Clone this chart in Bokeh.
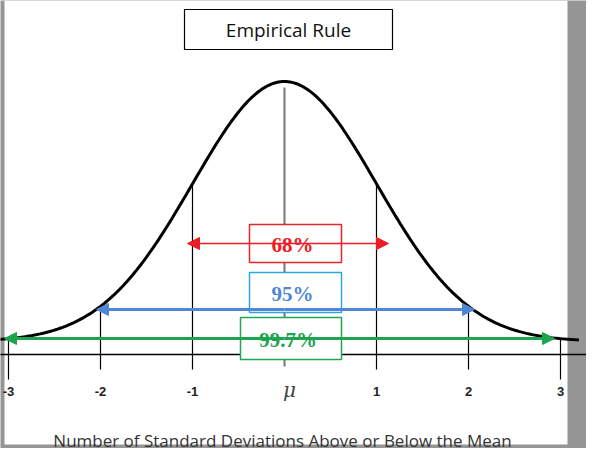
from bokeh.plotting import figure
from bokeh.models import Range1d, Arrow, NormalHead
from bokeh.core.properties import value
from bokeh.embed import file_html
from bokeh.resources import INLINE
import numpy as np

# standard deviation marks and their labels
sd_ticks = [-3, -2, -1, 0, 1, 2, 3]
tick_labels = ["-3", "-2", "-1", "μ", "1", "2", "3"]
# spans of the empirical rule
spans = [1, 2, 3]
span_labels = ["68%", "95%", "99.7%"]
span_colors = ["#ee1c24", "#4f87d6", "#1ea34f"]
box_colors = ["#e0272d", "#2ea6df", "#22a656"]

MU, SD = 300, 92          # px position of mean and px per sd
BASE, AMP = 357, 260      # curve base level and height (px)

def X(z):
    return MU + SD * np.asarray(z, dtype=float)

def Y(py):
    return 464 - np.asarray(py, dtype=float)

def curve_py(z):
    return BASE - AMP * np.exp(-np.asarray(z, dtype=float) ** 2 / 2)

p = figure(width=586, height=448, output_backend="svg", toolbar_location=None,
           x_range=Range1d(16, 602), y_range=Range1d(0, 448), min_border=0)
p.axis.visible = False
p.grid.visible = False
p.outline_line_color = None
p.background_fill_color = "#959595"
p.border_fill_color = "#959595"

# white sheet
p.quad(left=[20], right=[583], bottom=Y([460]), top=Y([16]), fill_color="white", line_color=None)

# title box
p.quad(left=[200], right=[408], bottom=Y([65]), top=Y([25]), fill_color="white", line_color="black", line_width=1.2)
p.text(x=[304], y=Y([45]), text=["Empirical Rule"], text_align="center", text_baseline="middle",
       text_font=value("Open Sans"), text_font_size="19px", text_color="#111111")

# axis line
p.line(x=[0, 602], y=Y([370, 370]), line_color="black", line_width=1.5)

# vertical sd lines
for z in sd_ticks:
    if z == 0:
        p.line(x=[X(z)] * 2, y=Y([103, 382]), line_color="#777777", line_width=2)
    elif abs(z) == 3:
        p.line(x=[X(z)] * 2, y=Y([curve_py(z), 395]), line_color="black", line_width=1.2)
    else:
        p.line(x=[X(z)] * 2, y=Y([curve_py(z), 385]), line_color="black", line_width=1.2)

# normal curve
zz = np.linspace(-3.1, 3.2, 300)
p.line(x=X(zz), y=Y(curve_py(zz)), line_color="black", line_width=3)

# tick labels
for z, lab in zip(sd_ticks, tick_labels):
    if lab == "μ":
        p.text(x=[X(z) + 5], y=Y([405]), text=[lab], text_align="center", text_baseline="middle",
               text_font=value("DejaVu Serif"), text_font_style="italic", text_font_size="20px",
               text_color="#444444")
    else:
        p.text(x=[X(z)], y=Y([407]), text=[lab], text_align="center", text_baseline="middle",
               text_font=value("Liberation Sans"), text_font_style="bold", text_font_size="13px",
               text_color="#222222")

# arrows and boxes
arrow_py = [259, 325, 354]
arrow_ends = [(203, 404), (112, 490), (20, 570)]
boxes = [(265, 357, 240, 278), (265, 357, 288, 328), (256, 357, 333, 375)]
for i, k in enumerate(spans):
    c = span_colors[i]
    x0, x1 = arrow_ends[i]
    yy = float(Y(arrow_py[i]))
    lw = 1.5 if k == 1 else 3
    for a, b in ((300, x0), (300, x1)):
        p.add_layout(Arrow(end=NormalHead(size=12, fill_color=c, line_color=c),
                           x_start=a, y_start=yy, x_end=b, y_end=yy,
                           line_color=c, line_width=lw))
    l, r, t, btm = boxes[i]
    p.quad(left=[l], right=[r], bottom=Y([btm]), top=Y([t]), fill_color="white",
           line_color=box_colors[i], line_width=1.5)
    p.text(x=[(l + r) / 2 - 3], y=Y([(t + btm) / 2 + 1]), text=[span_labels[i]], text_align="center",
           text_baseline="middle", text_font=value("Liberation Serif"), text_font_style="bold",
           text_font_size="21px", text_color=c)

# bottom caption
p.text(x=[298], y=Y([444]), text=["Number of Standard Deviations Above or Below the Mean"],
       text_align="center", text_baseline="top", text_font=value("Open Sans"),
       text_font_size="17px", text_color="#333333")

open("out.html", "w").write(file_html(p, INLINE))
